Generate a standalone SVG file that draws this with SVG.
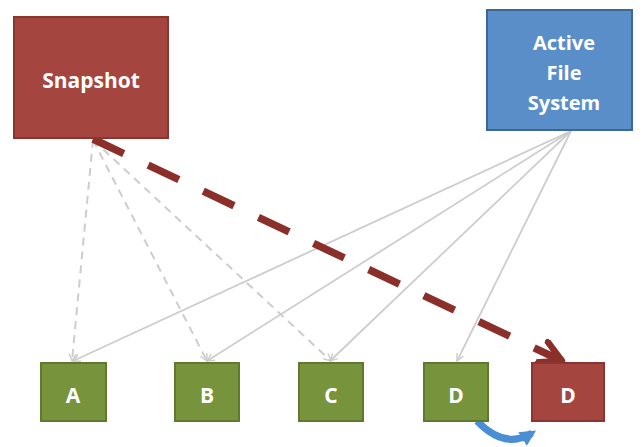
<svg xmlns="http://www.w3.org/2000/svg" width="644" height="447" viewBox="0 0 644 447">
<style>
.lbl{font-family:"Open Sans","Liberation Sans",sans-serif;font-weight:bold;fill:#fff;text-anchor:middle}
.red{fill:#a4453f;stroke:#8a3530;stroke-width:2}
.blue{fill:#5a8ec9;stroke:#3c6897;stroke-width:2}
.green{fill:#77933c;stroke:#5f7a2e;stroke-width:2}
.gs{stroke:#cdcdcd;stroke-width:1.8;fill:none;marker-end:url(#ga)}
.gd{stroke:#cdcdcd;stroke-width:2;fill:none;stroke-dasharray:8 6;marker-end:url(#ga)}
</style>
<defs>
<marker id="ga" viewBox="0 0 10 10" refX="9" refY="5" markerWidth="9" markerHeight="9" markerUnits="userSpaceOnUse" orient="auto">
<path d="M1,1 L9,5 L1,9" fill="none" stroke="#cdcdcd" stroke-width="1.6"/>
</marker>
<marker id="ra" viewBox="0 0 10 10" refX="8.5" refY="5" markerWidth="28" markerHeight="28" markerUnits="userSpaceOnUse" orient="auto">
<path d="M1,1 L8.5,5 L1,9" fill="none" stroke="#8b2f2a" stroke-width="2.3" stroke-linecap="round" stroke-linejoin="round"/>
</marker>
<marker id="ba" viewBox="0 0 10 10" refX="7" refY="5" markerWidth="16" markerHeight="16" markerUnits="userSpaceOnUse" orient="auto">
<path d="M0,0 L10,5 L0,10 Z" fill="#4a8ed3"/>
</marker>
</defs>
<g id="connectors">
<line class="gd" x1="93" y1="140" x2="72" y2="361"/>
<line class="gd" x1="93" y1="140" x2="207" y2="361"/>
<line class="gd" x1="93" y1="140" x2="331" y2="361"/>
<line class="gs" x1="571" y1="131" x2="73" y2="361"/>
<line class="gs" x1="571" y1="131" x2="207" y2="361"/>
<line class="gs" x1="571" y1="131" x2="330" y2="361"/>
<line class="gs" x1="571" y1="131" x2="457" y2="361"/>
<line x1="93" y1="139" x2="562" y2="361" stroke="#8b2f2a" stroke-width="7.5" stroke-dasharray="34 27" marker-end="url(#ra)"/>
<path d="M477,421 Q505,450 532,433" fill="none" stroke="#4a8ed3" stroke-width="7" marker-end="url(#ba)"/>
</g>
<g id="snapshot">
<rect class="red" x="14" y="17" width="154" height="121"/>
<text class="lbl" x="91" y="88" font-size="21">Snapshot</text>
</g>
<g id="active">
<rect class="blue" x="487" y="10" width="145" height="120"/>
<text class="lbl" x="564" y="50" font-size="20">Active</text>
<text class="lbl" x="564" y="80" font-size="20">File</text>
<text class="lbl" x="564" y="110" font-size="20">System</text>
</g>
<g id="A"><rect class="green" x="41" y="363" width="65" height="58"/><text class="lbl" x="73" y="403" font-size="21">A</text></g>
<g id="B"><rect class="green" x="175" y="363" width="64" height="58"/><text class="lbl" x="207" y="403" font-size="21">B</text></g>
<g id="C"><rect class="green" x="299" y="363" width="64" height="58"/><text class="lbl" x="331" y="403" font-size="21">C</text></g>
<g id="D1"><rect class="green" x="424" y="363" width="64" height="58"/><text class="lbl" x="456" y="403" font-size="21">D</text></g>
<g id="D2"><rect class="red" x="532" y="363" width="72" height="58"/><text class="lbl" x="568" y="403" font-size="21">D</text></g>
</svg>
